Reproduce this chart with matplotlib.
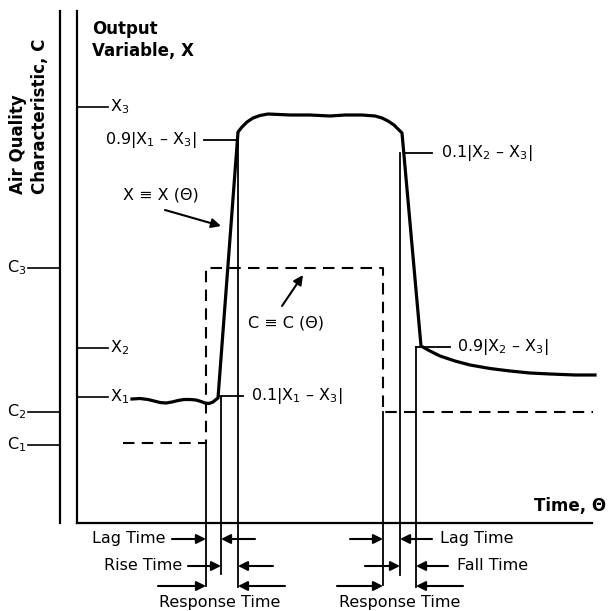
import matplotlib
matplotlib.use("Agg")
import matplotlib.pyplot as plt

plt.rcParams['font.family'] = ['DejaVu Sans']
plt.rcParams['mathtext.default'] = 'regular'

# diagram positions in picture units (x right, y down)
c_axis_x = 60
x_axis_x = 77
base_y = 523
right_end = 592

c_labels = ['C$_3$', 'C$_2$', 'C$_1$']
c_levels = [268, 412, 445]
x_labels = ['X$_3$', 'X$_2$', 'X$_1$']
x_levels = [107, 348, 397]

# output variable X(theta)
curve_x = [132, 140, 148, 154, 160, 166, 172, 178, 184, 190, 196, 201, 205,
           209, 213, 216, 218,
           238, 242, 247, 253, 260, 268, 290, 310, 330, 345, 362, 375,
           382, 388, 394, 402,
           421, 430, 440, 455, 470, 490, 510, 530, 550, 575, 595]
curve_y = [399, 398.5, 399.5, 401, 402.5, 403, 402, 400.5, 399.5, 399.5, 400, 401.5, 403,
           403.5, 402, 399.5, 398,
           132, 127, 122, 118, 115.5, 114, 115, 115, 116, 115, 115, 116,
           118, 121, 125, 133,
           346, 351, 356, 361, 365, 368.5, 371, 373, 374, 375, 375]

# air quality C(theta), dashed step
c_x = [123, 206, 206, 383, 383, 593]
c_y = [443, 443, 268, 268, 412, 412]

# timing marker lines: x, top, bottom
markers = [(206, 443, 586), (221, 397, 574), (238, 140, 587),
           (383, 412, 585), (400, 153, 575), (416, 347, 587)]

fig = plt.figure(figsize=(6.08, 6.11), dpi=100)
ax = fig.add_axes([0, 0, 1, 1])
ax.set_xlim(0, 608)
ax.set_ylim(611, 0)
ax.axis('off')

k = 'black'
fs = 11.5

# axes
ax.plot([c_axis_x, c_axis_x], [11, base_y], color=k, lw=1.6)
ax.plot([x_axis_x, x_axis_x], [11, base_y], color=k, lw=1.6)
ax.plot([x_axis_x, right_end], [base_y, base_y], color=k, lw=1.6)

for lab, y in zip(c_labels, c_levels):
    ax.plot([28, c_axis_x], [y, y], color=k, lw=1.2)
    ax.text(26, y, lab, fontsize=fs, ha='right', va='center')
for lab, y in zip(x_labels, x_levels):
    ax.plot([x_axis_x, 108], [y, y], color=k, lw=1.2)
    ax.text(110, y, lab, fontsize=fs, ha='left', va='center')

ax.text(92, 40, 'Output\nVariable, X', fontsize=12, fontweight='bold',
        ha='left', va='center', linespacing=1.3)
ax.text(29, 194, 'Air Quality\nCharacteristic, C', fontsize=12,
        fontweight='bold', rotation=90, ha='center', va='bottom',
        multialignment='left', linespacing=1.3)
ax.text(606, 506, 'Time, \u0398', fontsize=12, fontweight='bold',
        ha='right', va='center')

# curves
ax.plot(c_x, c_y, color=k, lw=1.5, linestyle=(0, (5.5, 3.5)))
ax.plot(curve_x, curve_y, color=k, lw=2.3, solid_joinstyle='round')

for x, y0, y1 in markers:
    ax.plot([x, x], [y0, y1], color=k, lw=1.3)

# level ticks with labels
ax.plot([204, 238], [140, 140], color=k, lw=1.3)
ax.text(197, 140, '0.9|X$_1$ \u2013 X$_3$|', fontsize=fs, ha='right', va='center')
ax.plot([218, 243], [396, 396], color=k, lw=1.3)
ax.text(251, 396, '0.1|X$_1$ \u2013 X$_3$|', fontsize=fs, ha='left', va='center')
ax.plot([404, 432], [153, 153], color=k, lw=1.3)
ax.text(441, 153, '0.1|X$_2$ \u2013 X$_3$|', fontsize=fs, ha='left', va='center')
ax.plot([416, 450], [347, 347], color=k, lw=1.3)
ax.text(457, 347, '0.9|X$_2$ \u2013 X$_3$|', fontsize=fs, ha='left', va='center')

# annotations
arrow = dict(arrowstyle='-|>', color=k, lw=1.5, shrinkA=0, shrinkB=0,
             mutation_scale=14)
ax.text(161, 195, 'X \u2261 X (\u0398)', fontsize=fs, ha='center', va='center')
ax.annotate('', xy=(221, 226), xytext=(165, 210), arrowprops=arrow)
ax.text(248, 323, 'C \u2261 C (\u0398)', fontsize=fs, ha='left', va='center')
ax.annotate('', xy=(303, 275), xytext=(282, 306), arrowprops=arrow)

# timing arrows: (tail x, head x, y)
timing = [(172, 206, 539), (255, 221, 539),
          (188, 221, 566), (273, 238, 566),
          (158, 206, 586), (285, 238, 586),
          (350, 383, 539), (432, 400, 539),
          (365, 400, 566), (448, 416, 566),
          (337, 383, 586), (463, 416, 586)]
for x0, x1, y in timing:
    ax.annotate('', xy=(x1, y), xytext=(x0, y), arrowprops=arrow)

ax.text(166, 539, 'Lag Time', fontsize=fs, ha='right', va='center')
ax.text(182, 566, 'Rise Time', fontsize=fs, ha='right', va='center')
ax.text(220, 602, 'Response Time', fontsize=fs, ha='center', va='center')
ax.text(440, 539, 'Lag Time', fontsize=fs, ha='left', va='center')
ax.text(457, 566, 'Fall Time', fontsize=fs, ha='left', va='center')
ax.text(400, 602, 'Response Time', fontsize=fs, ha='center', va='center')

fig.savefig('out.png', dpi=100)
